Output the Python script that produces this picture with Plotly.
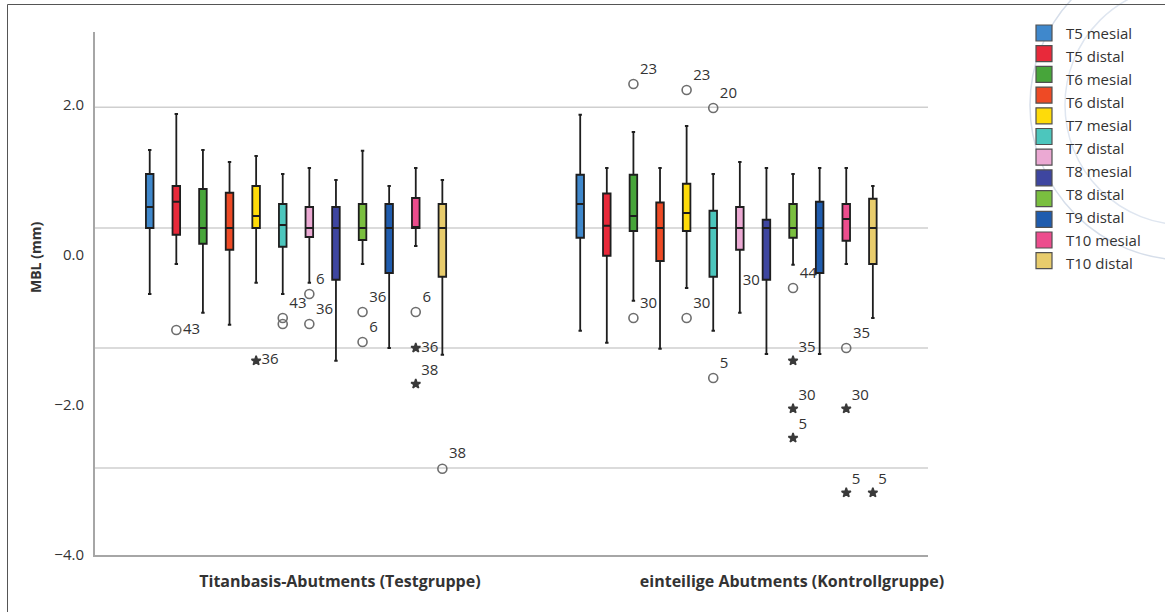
import plotly.graph_objects as go

# ---------------- data ----------------
SERIES = ["T5 mesial", "T5 distal", "T6 mesial", "T6 distal", "T7 mesial", "T7 distal",
          "T8 mesial", "T8 distal", "T9 mesial", "T9 distal", "T10 mesial", "T10 distal"]
LEGEND_LABELS = ["T5 mesial", "T5 distal", "T6 mesial", "T6 distal", "T7 mesial", "T7 distal",
                 "T8 mesial", "T8 distal", "T9 distal", "T10 mesial", "T10 distal"]
GROUPS = ["Titanbasis-Abutments (Testgruppe)", "einteilige Abutments (Kontrollgruppe)"]
COLORS = ["#3f88cc", "#e8293a", "#47a53a", "#ee4a25", "#fedb0a", "#4cc6bd",
          "#eba9d3", "#3e46a0", "#7abf3f", "#1f5cae", "#ec4d8d", "#e8cc6c"]

TEST_UPPER  = [1.40, 1.88, 1.40, 1.24, 1.32, 1.08, 1.16, 1.00, 1.39, 0.92, 1.16, 1.00]
TEST_Q3     = [1.08, 0.92, 0.88, 0.83, 0.92, 0.68, 0.64, 0.64, 0.68, 0.68, 0.76, 0.68]
TEST_MEDIAN = [0.64, 0.71, 0.36, 0.36, 0.52, 0.40, 0.36, 0.36, 0.36, 0.36, 0.36, 0.36]
TEST_Q1     = [0.36, 0.27, 0.15, 0.07, 0.36, 0.11, 0.24, -0.33, 0.20, -0.24, 0.36, -0.29]
TEST_LOWER  = [-0.52, -0.12, -0.77, -0.93, -0.37, -0.52, -0.37, -1.41, -0.12, -1.24, 0.12, -1.33]

CTRL_UPPER  = [1.87, 1.16, 1.64, 1.16, 1.72, 1.08, 1.24, 1.16, 1.08, 1.16, 1.16, 0.92]
CTRL_Q3     = [1.07, 0.82, 1.07, 0.70, 0.95, 0.59, 0.64, 0.47, 0.68, 0.71, 0.68, 0.75]
CTRL_MEDIAN = [0.68, 0.39, 0.52, 0.36, 0.56, 0.36, 0.36, 0.36, 0.36, 0.36, 0.48, 0.36]
CTRL_Q1     = [0.23, -0.01, 0.32, -0.08, 0.32, -0.29, 0.07, -0.33, 0.23, -0.24, 0.19, -0.12]
CTRL_LOWER  = [-1.01, -1.17, -0.61, -1.25, -0.44, -1.01, -0.77, -1.32, -0.13, -1.32, -0.12, -0.84]

# outliers: series index, value, kind ("o" = outlier, "*" = extreme, "" = hidden), case label
TEST_OUT_SERIES = [1, 4, 5, 5, 6, 6, 8, 8, 10, 10, 10, 11]
TEST_OUT_VALUES = [-1.00, -1.41, -0.84, -0.92, -0.52, -0.92, -0.76, -1.16, -0.76, -1.24, -1.72, -2.85]
TEST_OUT_KIND   = ["o", "*", "o", "o", "o", "o", "o", "o", "o", "*", "*", "o"]
TEST_OUT_LABELS = ["43", "36", "43", "", "6", "36", "36", "6", "6", "36", "38", "38"]

CTRL_OUT_SERIES = [2, 2, 4, 4, 5, 5, 7, 8, 8, 8, 8, 10, 10, 10, 11]
CTRL_OUT_VALUES = [2.28, -0.84, 2.20, -0.84, 1.96, -1.64, -0.35, -0.44, -1.41, -2.05, -2.44,
                   -1.24, -2.05, -3.17, -3.17]
CTRL_OUT_KIND   = ["o", "o", "o", "o", "o", "o", "", "o", "*", "*", "*", "o", "*", "*", "*"]
CTRL_OUT_LABELS = ["23", "30", "23", "30", "20", "5", "30", "44", "35", "30", "5", "35", "30", "5", "5"]

Y_TICKS = [2.0, 0.0, -2.0, -4.0]
Y_TICK_TEXT = ["2.0", "0.0", "\u22122.0", "\u22124.0"]
GRID_VALUES = [1.97, 0.36, -1.24, -2.84]

# ---------------- layout geometry ----------------
W, H = 1165, 612
ML, MR, MT, MB = 95, 237, 32, 57
PW, PH = W - ML - MR, H - MT - MB
SLOT = 0.0618          # spacing of the 12 boxes inside a group (data units)
BOX_W = 0.0176
X_RANGE = [-0.467, 1.468]
Y_RANGE = [-4.0, 2.973]
GROUP_TICKS = [0.102, 1.152]

# label placement per outlier (style only)
TEST_TEXTPOS = ["middle right", "middle right", "top right", "top right", "top right", "top right",
                "top right", "top right", "top right", "middle right", "top right", "top right"]


def pos(group, k):
    return group + (k - (len(SERIES) - 1) / 2) * SLOT


def px_x(px):
    return (px - ML) / PW


def px_y(py):
    return (H - MB - py) / PH


fig = go.Figure()

stats = [(TEST_UPPER, TEST_Q3, TEST_MEDIAN, TEST_Q1, TEST_LOWER),
         (CTRL_UPPER, CTRL_Q3, CTRL_MEDIAN, CTRL_Q1, CTRL_LOWER)]

for k, name in enumerate(SERIES):
    fig.add_trace(go.Box(
        x=[pos(0, k), pos(1, k)],
        upperfence=[stats[0][0][k], stats[1][0][k]],
        q3=[stats[0][1][k], stats[1][1][k]],
        median=[stats[0][2][k], stats[1][2][k]],
        q1=[stats[0][3][k], stats[1][3][k]],
        lowerfence=[stats[0][4][k], stats[1][4][k]],
        width=BOX_W,
        whiskerwidth=0.45,
        fillcolor=COLORS[k],
        line=dict(color="#1e1e1e", width=1.8),
        name=name,
        boxpoints=False,
        showlegend=False,
        hoverinfo="skip",
    ))

outs = [(0, TEST_OUT_SERIES, TEST_OUT_VALUES, TEST_OUT_KIND, TEST_OUT_LABELS),
        (1, CTRL_OUT_SERIES, CTRL_OUT_VALUES, CTRL_OUT_KIND, CTRL_OUT_LABELS)]
for g, ser, vals, kinds, labels in outs:
    xs = [pos(g, s) for s in ser]
    symbols = ["star" if kd == "*" else "circle-open" for kd in kinds]
    sizes = [7 if kd == "*" else 9 for kd in kinds]
    opac = [0 if kd == "" else 1 for kd in kinds]
    colors = ["#3a3a3a" if kd == "*" else "#6e6e6e" for kd in kinds]
    if g == 0:
        tpos = TEST_TEXTPOS
    else:
        tpos = ["middle left" if kd == "" else "top right" for kd in kinds]
    fig.add_trace(go.Scatter(
        x=xs, y=vals, mode="markers+text",
        text=labels, textposition=tpos,
        textfont=dict(family="Open Sans", size=15, color="#333333"),
        marker=dict(symbol=symbols, size=sizes, color=colors, opacity=opac,
                    line=dict(width=1.6, color=colors)),
        showlegend=False, hoverinfo="skip", cliponaxis=False,
    ))

shapes = []
# gridlines
for gv in GRID_VALUES:
    shapes.append(dict(type="line", xref="paper", yref="y", x0=0, x1=1, y0=gv, y1=gv,
                       line=dict(color="#cfcfcf", width=1.6), layer="below"))
# outer frame (left and top)
shapes.append(dict(type="line", xref="paper", yref="paper", x0=px_x(7.5), x1=px_x(7.5),
                   y0=px_y(4.5), y1=px_y(615), line=dict(color="#555555", width=1)))
shapes.append(dict(type="line", xref="paper", yref="paper", x0=px_x(7.5), x1=px_x(1170),
                   y0=px_y(4.5), y1=px_y(4.5), line=dict(color="#555555", width=1)))
# watermark seal (faint)
for r, c in [(155, "#d6deea"), (120, "#dfe6f0")]:
    cx, cy = 1185, 105
    shapes.append(dict(type="circle", xref="paper", yref="paper",
                       x0=px_x(cx - r), x1=px_x(cx + r), y0=px_y(cy + r), y1=px_y(cy - r),
                       line=dict(color=c, width=1.5), layer="below"))

# manual legend
annotations = []
for i, col in enumerate(COLORS):
    cy = 33 + 20.7 * i
    shapes.append(dict(type="rect", xref="paper", yref="paper",
                       x0=px_x(1036), x1=px_x(1052), y0=px_y(cy + 8), y1=px_y(cy - 8),
                       fillcolor=col, line=dict(color="#505050", width=1.2)))
for i, lab in enumerate(LEGEND_LABELS):
    cy = 33 + 23 * i
    annotations.append(dict(xref="paper", yref="paper", x=px_x(1064), y=px_y(cy),
                            xanchor="left", yanchor="middle", text=lab, showarrow=False,
                            font=dict(family="Open Sans", size=15, color="#333333")))
# y axis title
annotations.append(dict(xref="paper", yref="paper", x=px_x(35), y=px_y(258),
                        xanchor="center", yanchor="middle", text="<b>MBL (mm)</b>",
                        textangle=-90, showarrow=False,
                        font=dict(family="Open Sans", size=14, color="#333333")))

fig.update_layout(
    width=W, height=H,
    margin=dict(l=ML, r=MR, t=MT, b=MB, pad=0),
    paper_bgcolor="white", plot_bgcolor="white",
    showlegend=False,
    shapes=shapes, annotations=annotations,
    xaxis=dict(range=X_RANGE, tickvals=GROUP_TICKS,
               ticktext=["<b>" + g + "</b>" for g in GROUPS],
               tickfont=dict(family="Open Sans", size=16, color="#333333"),
               ticks="outside", ticklen=11, tickcolor="rgba(0,0,0,0)",
               showgrid=False, zeroline=False,
               showline=True, linecolor="#a6a6a6", linewidth=2),
    yaxis=dict(range=Y_RANGE, tickvals=Y_TICKS, ticktext=Y_TICK_TEXT,
               tickfont=dict(family="Open Sans", size=15, color="#333333"),
               ticks="outside", ticklen=6, tickcolor="rgba(0,0,0,0)",
               showgrid=False, zeroline=False,
               showline=True, linecolor="#a6a6a6", linewidth=2),
)

fig.write_html("out.html")
